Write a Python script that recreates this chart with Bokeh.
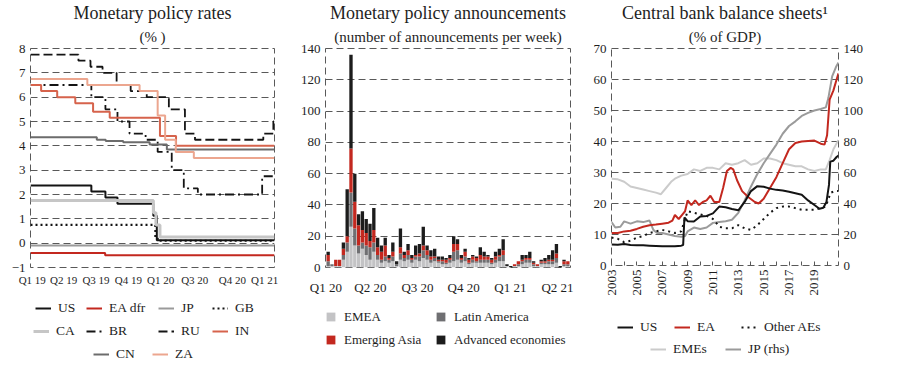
import numpy as np
import pandas as pd
from bokeh.plotting import figure
from bokeh.models import (Range1d, LinearAxis, FixedTicker, Legend, LegendItem,
                          Title, ColumnDataSource)
from bokeh.layouts import row, column
from bokeh.embed import file_html
from bokeh.resources import INLINE

FONT = "Liberation Serif"
TXT = "#1e1e1e"
GRID = "#595959"
DASH = "7 4"

# ---------------- Panel 1: monetary policy rates (%) ----------------
RATES_START = "2019-01-01"
RATES_END = "2021-04-30"
rate_tick_pos = [0.2, 3.8, 7.5, 11.2, 14.9, 18.8, 23.1, 26.8]
rate_tick_lbl = ["Q1 19", "Q2 19", "Q3 19", "Q4 19", "Q1 20", "Q3 20", "Q4 20", "Q1 21"]

us_d = ["2019-01-01", "2019-08-01", "2019-09-19", "2019-10-31", "2020-03-04", "2020-03-16", RATES_END]
us_v = [2.375, 2.125, 1.875, 1.625, 1.125, 0.125, 0.125]
ea_d = ["2019-01-01", "2019-09-18", RATES_END]
ea_v = [-0.4, -0.5, -0.5]
jp_d = ["2019-01-01", RATES_END]
jp_v = [-0.1, -0.1]
gb_d = ["2019-01-01", "2020-03-11", "2020-03-19", RATES_END]
gb_v = [0.75, 0.25, 0.1, 0.1]
ca_d = ["2019-01-01", "2020-03-04", "2020-03-13", "2020-03-27", RATES_END]
ca_v = [1.75, 1.25, 0.75, 0.25, 0.25]
br_d = ["2019-01-01", "2019-08-01", "2019-09-19", "2019-10-31", "2019-12-12", "2020-02-06",
        "2020-03-19", "2020-05-07", "2020-06-18", "2020-08-06", "2021-03-18", RATES_END]
br_v = [6.5, 6.0, 5.5, 5.0, 4.5, 4.25, 3.75, 3.0, 2.25, 2.0, 2.75, 2.75]
ru_d = ["2019-01-01", "2019-06-17", "2019-07-29", "2019-09-09", "2019-10-28", "2019-12-16",
        "2020-02-10", "2020-04-27", "2020-06-22", "2020-07-27", "2021-03-22", "2021-04-26", RATES_END]
ru_v = [7.75, 7.5, 7.25, 7.0, 6.5, 6.25, 6.0, 5.5, 4.5, 4.25, 4.5, 5.0, 5.0]
in_d = ["2019-01-01", "2019-02-07", "2019-04-04", "2019-06-06", "2019-08-07", "2019-10-04",
        "2020-03-27", "2020-05-22", RATES_END]
in_v = [6.5, 6.25, 6.0, 5.75, 5.4, 5.15, 4.4, 4.0, 4.0]
cn_d = ["2019-01-01", "2019-08-20", "2019-09-20", "2019-11-20", "2020-02-20", "2020-04-20", RATES_END]
cn_v = [4.35, 4.25, 4.2, 4.15, 4.05, 3.85, 3.85]
za_d = ["2019-01-01", "2019-07-18", "2020-01-16", "2020-03-19", "2020-04-14", "2020-05-21",
        "2020-07-23", RATES_END]
za_v = [6.75, 6.5, 6.25, 5.25, 4.25, 3.75, 3.5, 3.5]

# ---------------- Panel 2: announcements per week ----------------
week = list(range(64))
ann_tick_pos = [-0.6, 11.1, 23.5, 35.6, 47.9, 60.3]
ann_tick_lbl = ["Q1 20", "Q2 20", "Q3 20", "Q4 20", "Q1 21", "Q2 21"]
emea = [1, 1, 1, 1, 5, 10, 26, 14, 9, 12, 8, 5, 10, 5, 3, 4, 3, 4, 1, 5, 4, 5, 3, 5, 4, 6, 5, 3, 4, 3,
        2, 2, 3, 4, 5, 3, 4, 2, 3, 3, 3, 3, 3, 2, 3, 4, 4, 1, 0, 1, 1, 2, 3, 3, 1, 1, 2, 2, 2, 2,
        3, 0, 1, 1]
latam = [3, 1, 0, 0, 3, 6, 22, 11, 5, 4, 6, 8, 6, 3, 2, 3, 2, 3, 1, 4, 2, 3, 2, 2, 3, 5, 3, 2, 2, 1,
         2, 1, 2, 6, 6, 2, 3, 1, 2, 1, 2, 2, 2, 1, 2, 3, 4, 0, 0, 0, 1, 2, 2, 2, 1, 0, 1, 1, 2, 2,
         3, 0, 1, 1]
asia = [4, 0, 4, 4, 4, 4, 28, 17, 13, 8, 8, 4, 8, 5, 5, 7, 1, 3, 0, 4, 2, 3, 1, 1, 2, 3, 3, 2, 1, 1,
        1, 2, 1, 5, 4, 1, 3, 2, 2, 2, 3, 2, 2, 2, 2, 1, 3, 0, 0, 1, 2, 1, 1, 1, 1, 1, 1, 1, 1, 1,
        3, 0, 2, 2]
advanced = [2, 0, 0, 0, 4, 30, 60, 18, 7, 12, 9, 11, 14, 6, 4, 5, 2, 6, 2, 12, 2, 4, 2, 6, 6, 12, 3, 4, 5, 2,
            2, 1, 2, 5, 3, 2, 2, 1, 1, 1, 5, 3, 1, 1, 3, 4, 7, 1, 1, 0, 0, 3, 2, 4, 1, 0, 1, 2, 3, 6,
            6, 1, 1, 0]
ann_names = ["EMEA", "Latin America", "Emerging Asia", "Advanced economies"]
ann_colors = ["#c3c3c5", "#6f6f72", "#c3281f", "#1c1c1c"]

# ---------------- Panel 3: central bank balance sheets (% of GDP) ----------------
bs_years_lbl = list(range(2003, 2021))
us_yr = [2003.0, 2003.5, 2004.0, 2004.5, 2005.0, 2005.5, 2006.0, 2006.5, 2007.0, 2007.5, 2008.0, 2008.5,
         2008.65, 2008.75, 2009.0, 2009.5, 2010.0, 2010.5, 2011.0, 2011.5, 2012.0, 2012.5, 2013.0, 2013.5,
         2014.0, 2014.5, 2015.0, 2015.5, 2016.0, 2016.5, 2017.0, 2017.5, 2018.0, 2018.5, 2019.0, 2019.4,
         2019.7, 2019.95, 2020.15, 2020.25, 2020.5, 2020.75, 2020.9]
us_bs = [6.8, 6.7, 6.9, 6.6, 6.5, 6.5, 6.4, 6.3, 6.2, 6.2, 6.2, 6.4,
         6.6, 15.5, 14.3, 14.2, 15.8, 16.0, 16.8, 19.0, 18.8, 18.2, 17.8, 20.5,
         24.0, 25.6, 25.4, 24.8, 24.4, 24.2, 23.8, 23.3, 22.8, 21.0, 19.5, 18.3,
         18.6, 20.5, 26.0, 33.5, 33.8, 35.0, 35.5]
ea_yr = [2003.0, 2003.5, 2004.0, 2004.5, 2005.0, 2005.5, 2006.0, 2006.5, 2007.0, 2007.5, 2007.8, 2008.0,
         2008.3, 2008.6, 2008.8, 2009.0, 2009.3, 2009.6, 2009.9, 2010.2, 2010.5, 2010.8, 2011.1, 2011.5,
         2011.8, 2012.1, 2012.4, 2012.6, 2012.9, 2013.3, 2013.8, 2014.3, 2014.6, 2015.0, 2015.5, 2016.0,
         2016.5, 2017.0, 2017.5, 2018.0, 2018.5, 2019.0, 2019.5, 2019.8, 2020.0, 2020.2, 2020.5, 2020.75,
         2020.9]
ea_bs = [10.5, 10.5, 11.0, 11.2, 11.8, 12.5, 13.0, 13.2, 13.5, 13.8, 14.5, 16.3,
         15.0, 16.5, 17.5, 21.0, 19.5, 21.0, 19.5, 20.5, 21.0, 22.5, 20.5, 20.5,
         25.0, 30.5, 31.5, 31.0, 27.5, 24.0, 22.0, 20.5, 20.0, 21.5, 25.0, 28.5,
         33.0, 37.5, 39.5, 40.0, 40.2, 40.3, 39.3, 39.0, 42.0, 53.5, 56.5, 60.0,
         62.0]
oa_yr = [2003.0, 2003.5, 2004.0, 2004.5, 2005.0, 2005.5, 2006.0, 2006.5, 2007.0, 2007.5, 2008.0, 2008.5,
         2008.8, 2009.0, 2009.5, 2010.0, 2010.5, 2011.0, 2011.5, 2012.0, 2012.5, 2013.0, 2013.5, 2014.0,
         2014.5, 2015.0, 2015.5, 2016.0, 2016.5, 2017.0, 2017.5, 2018.0, 2018.5, 2019.0, 2019.5, 2019.9,
         2020.1, 2020.3, 2020.6, 2020.9]
oa_bs = [9.0, 8.6, 7.5, 8.0, 9.0, 9.5, 10.5, 11.0, 11.5, 11.0, 10.5, 11.0,
         15.0, 17.5, 17.0, 16.5, 16.0, 15.0, 12.5, 12.0, 12.0, 13.0, 12.0, 11.5,
         13.0, 15.0, 17.0, 18.5, 19.0, 19.0, 18.5, 18.0, 18.0, 18.0, 18.5, 19.0,
         21.5, 23.5, 24.0, 24.0]
em_yr = [2003.0, 2003.5, 2004.0, 2004.5, 2005.0, 2005.5, 2006.0, 2006.5, 2006.9, 2007.3, 2007.7, 2008.0,
         2008.5, 2009.0, 2009.5, 2010.0, 2010.5, 2011.0, 2011.5, 2012.0, 2012.5, 2013.0, 2013.5, 2014.0,
         2014.5, 2015.0, 2015.5, 2016.0, 2016.5, 2017.0, 2017.5, 2018.0, 2018.5, 2019.0, 2019.5, 2019.9,
         2020.2, 2020.5, 2020.9]
em_bs = [28.0, 27.8, 27.0, 25.5, 25.0, 24.5, 24.0, 23.5, 23.0, 25.0, 27.0, 28.0,
         29.0, 29.5, 31.0, 30.5, 31.5, 31.5, 31.0, 33.0, 32.5, 33.0, 34.0, 32.5,
         33.0, 34.5, 34.5, 34.0, 33.0, 32.5, 32.0, 32.0, 31.0, 30.5, 31.0, 31.0,
         34.0, 37.5, 40.5]
jp_yr = [2003.0, 2003.3, 2003.7, 2004.0, 2004.5, 2005.0, 2005.5, 2006.0, 2006.3, 2006.6, 2007.0, 2007.5,
         2008.0, 2008.5, 2008.8, 2009.0, 2009.5, 2010.0, 2010.5, 2011.0, 2011.5, 2012.0, 2012.5, 2013.0,
         2013.5, 2014.0, 2014.5, 2015.0, 2015.5, 2016.0, 2016.5, 2017.0, 2017.5, 2018.0, 2018.5, 2019.0,
         2019.5, 2019.9, 2020.1, 2020.4, 2020.7, 2020.9]
jp_bs = [28.0, 24.5, 25.0, 28.5, 27.0, 28.5, 28.0, 29.0, 23.0, 21.0, 21.0, 20.0,
         19.0, 18.5, 19.0, 22.0, 24.5, 23.5, 24.5, 27.5, 28.0, 28.5, 29.5, 34.0,
         42.0, 51.0, 59.0, 66.0, 72.0, 78.0, 85.0, 90.0, 93.0, 96.5, 98.5, 100.0,
         101.0, 102.0, 108.0, 122.0, 128.0, 131.0]

MAIN_H = 298
LEG_H = 66


def months(dates):
    d = pd.to_datetime(pd.Series(dates))
    return ((d - pd.Timestamp(RATES_START)).dt.days / 30.4375).tolist()


def base_style(p):
    p.outline_line_color = GRID
    p.outline_line_dash = DASH
    p.outline_line_width = 1
    p.xgrid.visible = False
    p.ygrid.grid_line_color = GRID
    p.ygrid.grid_line_dash = DASH
    p.ygrid.grid_line_width = 1
    p.background_fill_color = "white"
    p.border_fill_color = "white"
    for ax in p.axis:
        ax.axis_line_color = None
        ax.major_tick_line_color = None
        ax.minor_tick_line_color = None
        ax.major_tick_out = 0
        ax.major_tick_in = 0
        ax.minor_tick_out = 0
        ax.minor_tick_in = 0
        ax.major_label_text_font = FONT
        ax.major_label_text_font_size = "13px"
        ax.major_label_text_color = TXT
        ax.major_label_standoff = 5


def titles(p, main, sub):
    p.title.text = main
    p.title.align = "center"
    p.title.text_font = FONT
    p.title.text_font_size = "18px"
    p.title.text_font_style = "normal"
    p.title.text_color = TXT
    p.title.standoff = 0
    p.add_layout(Title(text=sub, align="center", text_font=FONT, text_font_size="15px",
                       text_font_style="normal", text_color=TXT, standoff=8), "above")


def main_fig(width, border_left, border_right, **kw):
    return figure(width=width, height=MAIN_H, output_backend="svg", toolbar_location=None,
                  min_border_left=border_left, min_border_right=border_right,
                  min_border_top=48, min_border_bottom=31, **kw)


def legend_fig(width):
    lf = figure(width=width, height=LEG_H, x_range=Range1d(0, 1), y_range=Range1d(0, 1),
                x_axis_location=None, y_axis_location=None, title=None,
                toolbar_location=None, output_backend="svg", min_border=0)
    lf.outline_line_color = None
    lf.grid.visible = False
    lf.background_fill_color = "white"
    lf.border_fill_color = "white"
    return lf


def key(lf, label, renderer, x, y, gw=16, gh=14, standoff=7, size="13.5px"):
    leg = Legend(items=[LegendItem(label=label, renderers=[renderer])], location=(x, y))
    leg.label_text_font = FONT
    leg.label_text_font_size = size
    leg.label_text_color = TXT
    leg.glyph_width = gw
    leg.glyph_height = gh
    leg.label_height = 17
    leg.label_standoff = standoff
    leg.padding = 0
    leg.margin = 0
    leg.border_line_color = None
    leg.background_fill_alpha = 0
    lf.add_layout(leg)


NAN = [float("nan")]

# ---------- figure 1 ----------
m_end = months([RATES_END])[0]
p1 = main_fig(293, 30, 19, x_range=Range1d(0, m_end), y_range=Range1d(-1, 8))
titles(p1, "Monetary policy rates", "(% )")
series1 = [
    ("US", us_d, us_v, "#141414", 2, None),
    ("EA dfr", ea_d, ea_v, "#c3281f", 2, None),
    ("JP", jp_d, jp_v, "#9a9a9a", 2, None),
    ("GB", gb_d, gb_v, "#141414", 2.2, "2 3"),
    ("CA", ca_d, ca_v, "#c6c6c6", 3, None),
    ("BR", br_d, br_v, "#141414", 1.8, "9 4 2 4"),
    ("RU", ru_d, ru_v, "#141414", 1.8, "9 4"),
    ("IN", in_d, in_v, "#d6634c", 2, None),
    ("CN", cn_d, cn_v, "#6c6c6c", 2, None),
    ("ZA", za_d, za_v, "#eca68f", 2, None),
]
style1 = {}
for name, d, v, c, w, dash in series1:
    kw = dict(line_color=c, line_width=w)
    if dash:
        kw["line_dash"] = dash
    style1[name] = kw
    p1.step(x=months(d), y=v, mode="after", **kw)
base_style(p1)
p1.yaxis.ticker = FixedTicker(ticks=list(range(-1, 9)))
p1.xaxis.ticker = FixedTicker(ticks=rate_tick_pos)
p1.xaxis.major_label_overrides = dict(zip(rate_tick_pos, rate_tick_lbl))
p1.xaxis.major_label_text_font_size = "11px"
p1.xaxis.major_label_standoff = 6

l1 = legend_fig(293)
key_pos1 = {"US": (5, 48), "EA dfr": (56, 48), "JP": (128, 48), "GB": (182, 48),
            "CA": (3, 25), "BR": (56, 25), "RU": (128, 25), "IN": (182, 25),
            "CN": (63, 2), "ZA": (122, 2)}
for name, (x, y) in key_pos1.items():
    r = l1.line(x=NAN, y=NAN, **style1[name])
    key(l1, name, r, x, y)

# ---------- figure 2 ----------
src = ColumnDataSource(dict(week=week, emea=emea, latam=latam, asia=asia, advanced=advanced))
p2 = main_fig(295, 32, 18, x_range=Range1d(-0.7, 63.7), y_range=Range1d(0, 140))
titles(p2, "Monetary policy announcements", "(number of announcements per week)")
p2.vbar_stack(["emea", "latam", "asia", "advanced"], x="week", width=0.88,
              color=ann_colors, source=src, line_width=0)
base_style(p2)
p2.yaxis.ticker = FixedTicker(ticks=list(range(0, 141, 20)))
p2.xaxis.ticker = FixedTicker(ticks=ann_tick_pos)
p2.xaxis.major_label_overrides = dict(zip(ann_tick_pos, ann_tick_lbl))
p2.xaxis.major_label_text_font_size = "13px"
p2.xaxis.major_label_standoff = 12

l2 = legend_fig(295)
key_pos2 = [(0, 39), (110, 39), (0, 16), (110, 16)]
for name, c, (x, y) in zip(ann_names, ann_colors, key_pos2):
    r = l2.vbar(x=NAN, top=NAN, width=1, fill_color=c, line_color=None)
    key(l2, name, r, x, y, gw=11, gh=11, standoff=8, size="13px")

# ---------- figure 3 ----------
p3 = main_fig(290, 23, 40, x_range=Range1d(2003, 2020.9), y_range=Range1d(0, 70))
titles(p3, "Central bank balance sheets\u00b9", "(% of GDP)")
p3.extra_y_ranges = {"rhs": Range1d(0, 140)}
p3.add_layout(LinearAxis(y_range_name="rhs"), "right")
style3 = {
    "US": dict(line_color="#141414", line_width=2),
    "EA": dict(line_color="#c3281f", line_width=2),
    "Other AEs": dict(line_color="#141414", line_width=2, line_dash="2 4"),
    "EMEs": dict(line_color="#cbcbcb", line_width=2),
    "JP (rhs)": dict(line_color="#9b9b9b", line_width=2),
}
p3.line(em_yr, em_bs, **style3["EMEs"])
p3.line(jp_yr, jp_bs, y_range_name="rhs", **style3["JP (rhs)"])
p3.line(oa_yr, oa_bs, **style3["Other AEs"])
p3.line(ea_yr, ea_bs, **style3["EA"])
p3.line(us_yr, us_bs, **style3["US"])
base_style(p3)
p3.left[0].ticker = FixedTicker(ticks=list(range(0, 71, 10)))
p3.right[0].ticker = FixedTicker(ticks=list(range(0, 141, 20)))
p3.xaxis.ticker = FixedTicker(ticks=bs_years_lbl)
p3.xaxis.major_label_overrides = {y: (str(y) if y % 2 == 1 else "") for y in bs_years_lbl}
p3.xaxis.major_label_orientation = np.pi / 2
p3.xaxis.major_tick_line_color = GRID
p3.xaxis.major_tick_in = 4
p3.xaxis.major_tick_out = 0
p3.xaxis.major_label_standoff = 4

l3 = legend_fig(290)
key_pos3 = {"US": (6, 29), "EA": (63, 29), "Other AEs": (130, 29),
            "EMEs": (39, 7), "JP (rhs)": (114, 7)}
for name, (x, y) in key_pos3.items():
    r = l3.line(x=NAN, y=NAN, **style3[name])
    key(l3, name, r, x, y)

layout = row(column(p1, l1, spacing=0), column(p2, l2, spacing=0), column(p3, l3, spacing=0), spacing=0)
open("out.html", "w").write(file_html(layout, INLINE))
